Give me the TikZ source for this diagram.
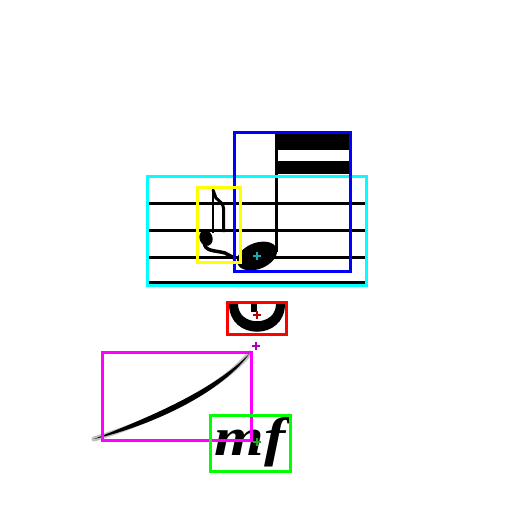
\documentclass[tikz,border=0pt]{standalone}
\usepackage{fontspec}
\newfontfamily\dynfont{Liberation Serif}
\definecolor{bcyan}{RGB}{0,255,255}
\definecolor{bblue}{RGB}{0,0,255}
\definecolor{byellow}{RGB}{255,255,0}
\definecolor{bred}{RGB}{255,0,0}
\definecolor{bmagenta}{RGB}{255,0,255}
\definecolor{bgreen}{RGB}{0,255,0}
\definecolor{mcyan}{RGB}{30,170,180}
\definecolor{mred}{RGB}{190,0,0}
\definecolor{mmag}{RGB}{170,0,190}
\definecolor{mgreen}{RGB}{30,170,30}
\begin{document}
\begin{tikzpicture}[x=1pt,y=-1pt,
  box/.style={line width=3pt},
  staffline/.style={line width=3pt,black},
  mk/.style={line width=2pt}]
\useasboundingbox (0,0) rectangle (512,512);
\fill[white] (0,0) rectangle (512,512);
% staff
\foreach \yy in {176.5,203.5,230.5,257,282.5}
  \draw[staffline] (148,\yy) -- (365,\yy);
% main note
\coordinate (nh) at (257,256);
\fill[rotate around={22:(nh)}] (nh) ellipse [x radius=21pt, y radius=13pt];
\draw[line width=2.2pt] (276.5,132) -- (276.5,252);
\fill (276,133) rectangle (350,150);
\fill (276,161) rectangle (350,173.5);
% grace note
\draw[line width=1.8pt] (213,188) -- (213,233);
\draw[line width=3pt] (213,190) -- (216,198) .. controls (224,205) .. (223.5,216) -- (223.5,232);
\fill[rotate around={20:(206,238)}] (206,238) ellipse [x radius=6.5pt, y radius=8pt];
\draw[line width=3.5pt] (204,242) .. controls (205,252) and (214,250) .. (225,253) -- (236,259);
% fermata
\coordinate (fer) at (257,315);
\fill (229,304) .. controls (229,341) and (285,341) .. (285,304) -- (276,304) .. controls (276,327) and (238,327) .. (238,304) -- cycle;
\fill (250.7,304) rectangle (257.3,311.7);
% slur
\coordinate (sa) at (94,439);
\coordinate (sb) at (250,353);
\draw[line width=5pt,black!25,line cap=round] (sa) .. controls (140,425) and (215,395) .. (sb);
\fill (sa) .. controls (140,428.5) and (217,398.5) .. (sb) .. controls (213,392) and (138,421.5) .. (sa) -- cycle;
% dynamic
\node[font=\dynfont\fontsize{54}{54}\selectfont\bfseries\itshape, inner sep=0pt, xscale=1.18] (dyn) at (250,442) {mf};
% boxes
\draw[box,bcyan] (147,176) rectangle (366,285);
\draw[box,bblue] (234.5,132) rectangle (350.5,271.5);
\draw[box,byellow] (197.5,187) rectangle (240.5,262);
\draw[box,bred] (227.5,302.5) rectangle (286,334);
\draw[box,bmagenta] (102.5,352.5) rectangle (251,440.5);
\draw[box,bgreen] (210.5,415.5) rectangle (290.5,471);
% markers
\foreach \p/\c in {{257,256}/mcyan, {257,315}/mred, {256,345.5}/mmag, {257,442}/mgreen}
  \draw[mk,\c] (\p) ++(-4,0) -- ++(8,0) (\p) ++(0,-4) -- ++(0,8);
\end{tikzpicture}
\end{document}
